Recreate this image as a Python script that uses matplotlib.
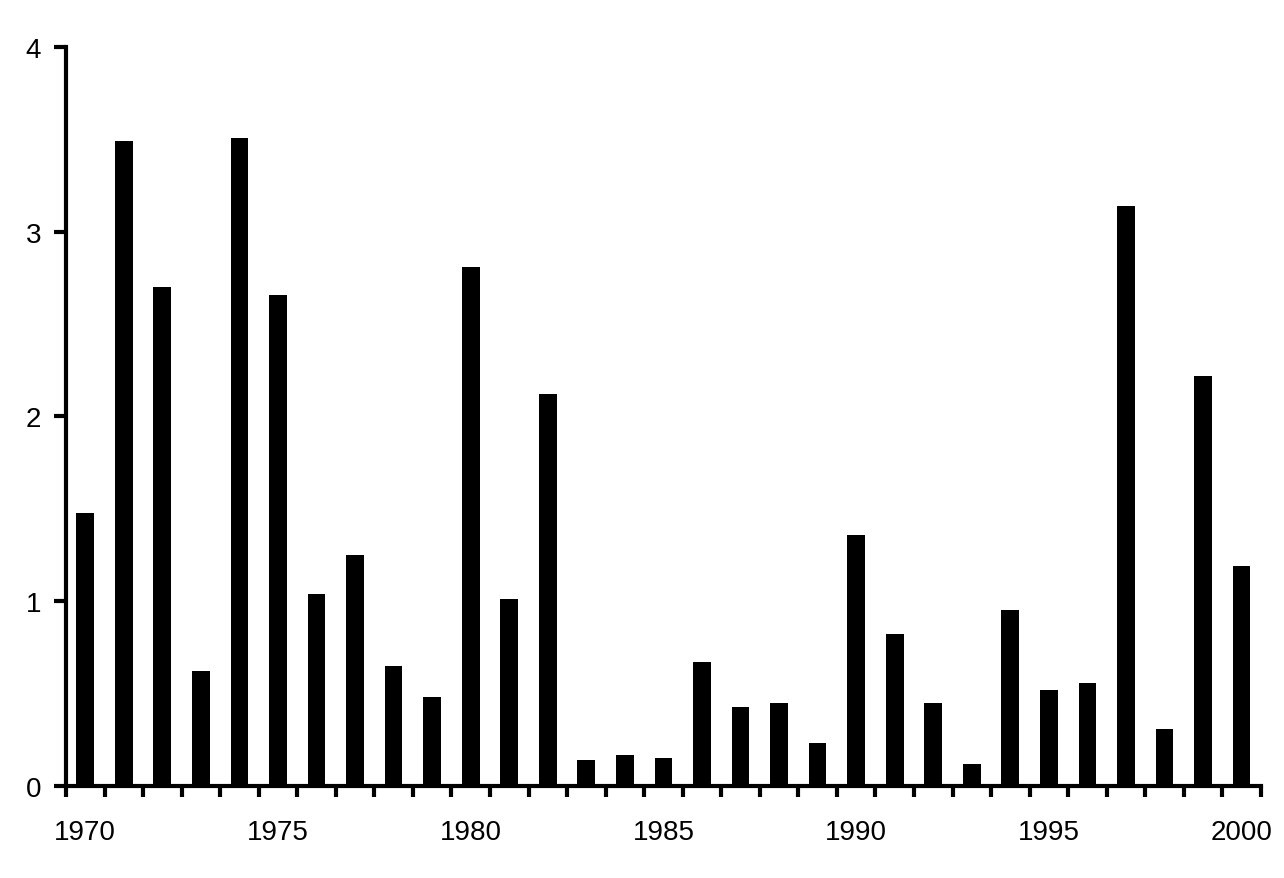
import numpy as np
import matplotlib.pyplot as plt

plt.rcParams["font.family"] = ["Liberation Sans", "DejaVu Sans"]
plt.rcParams["font.size"] = 20

years = list(range(1970, 2001))
values = [1.48, 3.49, 2.70, 0.62, 3.51, 2.66, 1.04, 1.25, 0.65, 0.48,
          2.81, 1.01, 2.12, 0.14, 0.17, 0.15, 0.67, 0.43, 0.45, 0.23,
          1.36, 0.82, 0.45, 0.12, 0.95, 0.52, 0.56, 3.14, 0.31, 2.22,
          1.19]
label_years = [1970, 1975, 1980, 1985, 1990, 1995, 2000]

fig = plt.figure(figsize=(12.84, 8.79), dpi=100)
ax = fig.add_axes([0.0514, 0.1047, 0.9306, 0.8407])

x = np.arange(len(years))
ax.bar(x, values, width=0.46, color="black")

ax.set_xlim(-0.5, len(years) - 0.5)
ax.set_ylim(0, 4)

# category boundaries get the tick marks, labels sit under the bars
ax.set_xticks(np.arange(len(years) + 1) - 0.5, minor=True)
ax.set_xticks([years.index(y) for y in label_years])
ax.set_xticklabels([str(y) for y in label_years], fontsize=20)
ax.tick_params(axis="x", which="major", length=0, pad=24)
ax.tick_params(axis="x", which="minor", length=8, width=3, direction="out")

ax.set_yticks([0, 1, 2, 3, 4])
ax.set_yticklabels(["0", "1", "2", "3", "4"], fontsize=20)
ax.tick_params(axis="y", length=9, width=3, direction="out", pad=9)

for s in ["top", "right"]:
    ax.spines[s].set_visible(False)
for s in ["left", "bottom"]:
    ax.spines[s].set_linewidth(3)

fig.savefig("out.png", dpi=100)
